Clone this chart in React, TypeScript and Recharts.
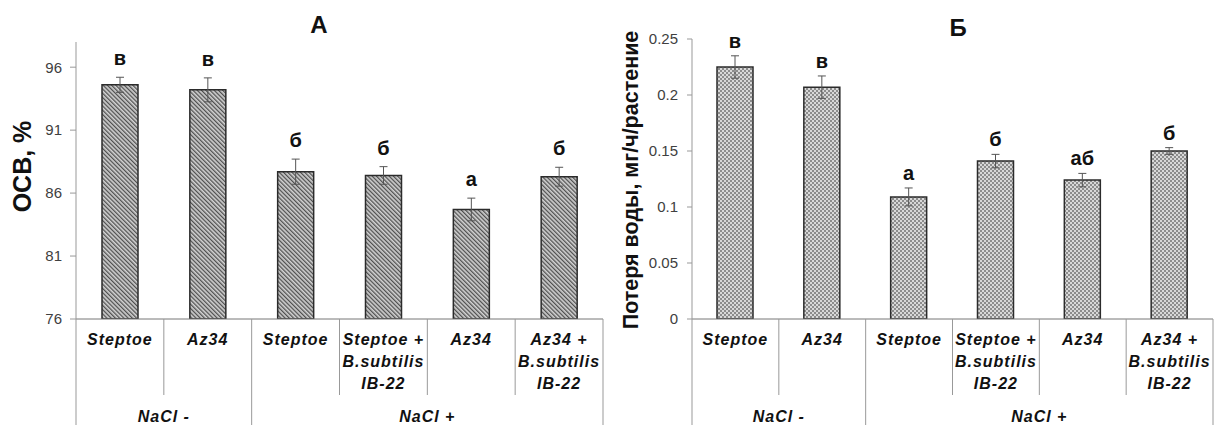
import { BarChart, Bar, XAxis, YAxis, ErrorBar, LabelList } from "recharts"

const categories = ["Steptoe", "Az34", "Steptoe", "Steptoe +\nB.subtilis\nIB-22", "Az34", "Az34 +\nB.subtilis\nIB-22"]
const groups = ["NaCl -", "NaCl -", "NaCl +", "NaCl +", "NaCl +", "NaCl +"]

const osvValues = [94.6, 94.2, 87.7, 87.4, 84.7, 87.3]
const osvErrors = [0.6, 0.95, 1.0, 0.7, 0.9, 0.75]
const osvLetters = ["в", "в", "б", "б", "а", "б"]
const osvTicks = [76, 81, 86, 91, 96]

const waterValues = [0.225, 0.207, 0.109, 0.141, 0.124, 0.15]
const waterErrors = [0.01, 0.01, 0.008, 0.006, 0.006, 0.003]
const waterLetters = ["в", "в", "а", "б", "аб", "б"]
const waterTicks = [0, 0.05, 0.1, 0.15, 0.2, 0.25]

const FONT = "'Liberation Sans', Arial, sans-serif"
const H = 425
const XAXIS_H = 106

const osvData = categories.map((cat, i) => ({ cat, group: groups[i], value: osvValues[i], err: osvErrors[i], letter: osvLetters[i] }))
const waterData = categories.map((cat, i) => ({ cat, group: groups[i], value: waterValues[i], err: waterErrors[i], letter: waterLetters[i] }))

// category table under the bars: labels, dividers and group names
function CategoryTick(props: any) {
  const { x, payload, band } = props
  const i = payload.index
  const bottom = H - XAXIS_H
  const lines = categories[i].split("\n")
  const sameNext = i < groups.length - 1 && groups[i + 1] === groups[i]
  const firstOfGroup = i === 0 || groups[i - 1] !== groups[i]
  let n = 0
  for (let k = i; k < groups.length && groups[k] === groups[i]; k++) n++
  return (
    <g>
      {lines.map((t: string, k: number) => (
        <text key={k} x={x} y={bottom + 26 + k * 22} textAnchor="middle" fontFamily={FONT} fontSize={16}
          fontWeight="bold" fontStyle="italic" letterSpacing={1} fill="#111">{t}</text>
      ))}
      {i === 0 && <line x1={x - band / 2} x2={x - band / 2} y1={bottom} y2={H} stroke="#999" />}
      <line x1={x + band / 2} x2={x + band / 2} y1={bottom} y2={sameNext ? bottom + 76 : H} stroke="#999" />
      {firstOfGroup && (
        <text x={x - band / 2 + (n * band) / 2} y={bottom + 103} textAnchor="middle" fontFamily={FONT} fontSize={16}
          fontWeight="bold" fontStyle="italic" letterSpacing={1} fill="#111">{groups[i]}</text>
      )}
    </g>
  )
}

function YTitle(props: any) {
  const { viewBox, text, cx, dy, size } = props
  const y = viewBox.y + viewBox.height / 2 + dy
  return (
    <text x={cx} y={y} transform={`rotate(-90 ${cx} ${y})`} textAnchor="middle" dominantBaseline="central"
      fontFamily={FONT} fontSize={size} fontWeight="bold" fill="#111">{text}</text>
  )
}

function letterLabel(letters: string[], errors: number[], values: number[], base: number, gap: number) {
  return (props: any) => {
    const { x, y, width, height, index } = props
    const per = height / (values[index] - base)
    const top = y - errors[index] * per
    return (
      <text x={x + width / 2} y={top - gap} textAnchor="middle" fontFamily={FONT} fontSize={20}
        fontWeight="bold" fill="#111">{letters[index]}</text>
    )
  }
}

function Panel(props: any) {
  const { data, width, marginTop, marginRight, yWidth, domain, ticks, tickSize, tickMargin, fill, band,
    title, titleSize, titleCx, titleDy, letters, errors, values, base, gap } = props
  return (
    <BarChart width={width} height={H} data={data} margin={{ top: marginTop, right: marginRight, bottom: 0, left: 0 }}
      barSize={36}>
      <defs>
        <pattern id="stripes" patternUnits="userSpaceOnUse" width="3" height="3" patternTransform="rotate(-45)">
          <rect width="3" height="3" fill="#d2d2d2" />
          <rect width="1.3" height="3" fill="#505050" />
        </pattern>
        <pattern id="checks" patternUnits="userSpaceOnUse" width="4" height="4">
          <rect width="4" height="4" fill="#d8d8d8" />
          <rect width="2" height="2" fill="#8c8c8c" />
          <rect x="2" y="2" width="2" height="2" fill="#8c8c8c" />
        </pattern>
      </defs>
      <XAxis dataKey="cat" height={XAXIS_H} interval={0} tickLine={false} axisLine={{ stroke: "#777" }}
        tick={<CategoryTick band={band} />} />
      <YAxis width={yWidth} domain={domain} ticks={ticks} allowDataOverflow tickSize={tickSize} tickMargin={tickMargin}
        axisLine={{ stroke: "#999" }} tickLine={{ stroke: "#999" }}
        tick={{ fill: "#404040", fontSize: 15, fontFamily: FONT }}
        label={<YTitle text={title} cx={titleCx} dy={titleDy} size={titleSize} />} />
      <Bar dataKey="value" fill={fill} stroke="#2b2b2b" strokeWidth={1.5} isAnimationActive={false}>
        <ErrorBar dataKey="err" width={4} stroke="#555" strokeWidth={1} direction="y" />
        <LabelList dataKey="letter" content={letterLabel(letters, errors, values, base, gap)} />
      </Bar>
    </BarChart>
  )
}

export default function App() {
  return (
    <div style={{ position: "absolute", left: 0, top: 0, width: 1214, height: 425, background: "#fff" }}>
      <div style={{ position: "absolute", left: 0, top: 0 }}>
        <Panel data={osvData} width={610} marginTop={42} marginRight={7} yWidth={76} domain={[76, 98]} ticks={osvTicks}
          tickSize={6} tickMargin={8} fill="url(#stripes)" band={527 / 6} title="ОСВ, %" titleSize={25} titleCx={22}
          titleDy={-14} letters={osvLetters} errors={osvErrors} values={osvValues} base={76} gap={12} />
      </div>
      <div style={{ position: "absolute", left: 610, top: 0 }}>
        <Panel data={waterData} width={604} marginTop={39} marginRight={1} yWidth={82} domain={[0, 0.25]} ticks={waterTicks}
          tickSize={5} tickMargin={9} fill="url(#checks)" band={521 / 6} title="Потеря воды, мг/ч/растение" titleSize={21.5}
          titleCx={21} titleDy={1} letters={waterLetters} errors={waterErrors} values={waterValues} base={0} gap={8} />
      </div>
      <div style={{ position: "absolute", left: 319, top: 13, transform: "translateX(-50%)", fontFamily: FONT,
        fontWeight: "bold", fontSize: 24, lineHeight: "24px", color: "#111" }}>А</div>
      <div style={{ position: "absolute", left: 958, top: 16, transform: "translateX(-50%)", fontFamily: FONT,
        fontWeight: "bold", fontSize: 24, lineHeight: "24px", color: "#111" }}>Б</div>
    </div>
  )
}
